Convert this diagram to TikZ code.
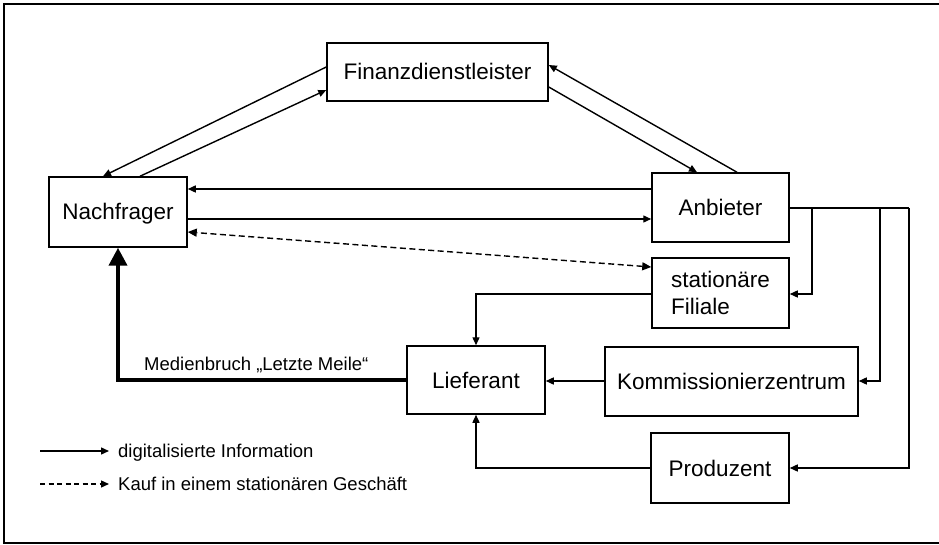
\documentclass[tikz,border=0pt]{standalone}
\usepackage{fontspec}
\setmainfont{Liberation Sans}
\usetikzlibrary{arrows.meta}
\begin{document}
\begin{tikzpicture}[x=1pt,y=-1pt,
  basebox/.style={draw,line width=1.5pt,inner sep=0pt,font=\fontsize{22.5}{27}\selectfont},
  box/.style={basebox,text height=16pt,text depth=0pt},
  con/.style={line width=1.4pt,-{Triangle[length=8pt,width=7pt]}},
  dcon/.style={con,dash pattern=on 6pt off 3.5pt},
  lbl/.style={font=\fontsize{18.5}{22}\selectfont,inner sep=0pt,text height=13pt,text depth=0pt}]
\useasboundingbox (0,0) rectangle (939,545);
\draw[line width=1.5pt] (941,4) -- (4,4) -- (4,543) -- (941,543);

\node[box,minimum width=221pt,minimum height=58pt] (fin) at (437.5,72) {Finanzdienstleister};
\node[box,minimum width=138pt,minimum height=70pt] (nach) at (118,212) {Nachfrager};
\node[box,minimum width=137pt,minimum height=69pt] (anb) at (720.5,207.5) {Anbieter};
\node[basebox,minimum width=137pt,minimum height=70pt,align=left] (fil) at (720.5,293) {stationäre\\Filiale};
\node[box,minimum width=138pt,minimum height=68pt] (lief) at (476,380) {Lieferant};
\node[box,minimum width=253pt,minimum height=69pt] (komm) at (731.5,381.5) {Kommissionierzentrum};
\node[box,minimum width=138pt,minimum height=70pt] (prod) at (720,468) {Produzent};

% Finanzdienstleister links
\draw[con] (fin.west |- 0,67) -- (nach.north -| 103,0);
\draw[con] (nach.north -| 140,0) -- (fin.west |- 0,90);
\draw[con] (anb.north -| 737,0) -- (fin.east |- 0,65);
\draw[con] (fin.east |- 0,87) -- (anb.north -| 697,0);

% Nachfrager <-> Anbieter
\draw[con] (anb.west |- 0,189) -- (nach.east |- 0,189);
\draw[con] (nach.east |- 0,219) -- (anb.west |- 0,219);
\draw[dcon,{Triangle[length=9pt,width=8pt]}-{Triangle[length=9pt,width=8pt]}] (fil.west |- 0,267) -- (nach.east |- 0,232);

% Anbieter distribution
\coordinate (j1) at (812,208);
\coordinate (j2) at (880,208);
\coordinate (j3) at (909,208);
\draw[line width=1.4pt] (anb.east |- 0,208) -- (j3);
\draw[con] (j1) |- (fil.east |- 0,294);
\draw[con] (j2) |- (komm.east |- 0,381);
\draw[con] (j3) |- (prod.east |- 0,468);

% to Lieferant
\draw[con] (fil.west |- 0,294) -| (lief.north);
\draw[con] (komm.west |- 0,381) -- (lief.east |- 0,381);
\draw[con] (prod.west |- 0,468) -| (lief.south);

% last mile
\draw[line width=4pt,-{Triangle[length=18pt,width=18pt]}] (lief.west) -| (nach.south);
\node[lbl,anchor=base west,text height=,text depth=] (mb) at (144,370) {Medienbruch „Letzte Meile“};

% legend
\coordinate (la1) at (40,451);
\coordinate (la2) at (40,484);
\node[lbl,anchor=west] (lt1) at (118,451) {digitalisierte Information};
\node[lbl,anchor=west] (lt2) at (118,484) {Kauf in einem stationären Geschäft};
\draw[con] (la1) -- ([xshift=-9pt]lt1.west);
\draw[con,dash pattern=on 5pt off 3.5pt] (la2) -- ([xshift=-9pt]lt2.west);
\end{tikzpicture}
\end{document}
